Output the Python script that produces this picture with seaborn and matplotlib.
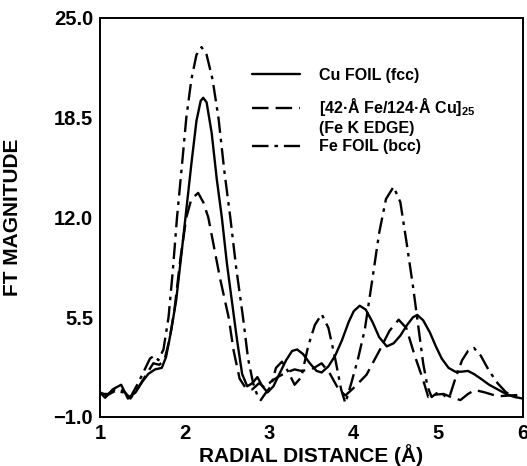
import numpy as np
import pandas as pd
import matplotlib
matplotlib.use("Agg")
import matplotlib.pyplot as plt
import seaborn as sns
from matplotlib.lines import Line2D

# Cu FOIL (fcc) - solid
cu_x = [1.00, 1.06, 1.15, 1.25, 1.33, 1.42, 1.50, 1.57, 1.65, 1.73, 1.78, 1.84, 1.90, 1.96,
        2.02, 2.08, 2.14, 2.19, 2.22, 2.26, 2.32, 2.38, 2.44, 2.50, 2.56, 2.62, 2.68, 2.74,
        2.80, 2.86, 2.92, 2.98, 3.05, 3.12, 3.20, 3.27, 3.33, 3.40, 3.48, 3.56, 3.62, 3.70,
        3.78, 3.86, 3.94, 4.00, 4.07, 4.14, 4.22, 4.30, 4.39, 4.47, 4.55, 4.63, 4.70, 4.75,
        4.82, 4.90, 4.97, 5.04, 5.12, 5.20, 5.27, 5.35, 5.42, 5.50, 5.60, 5.70, 5.80, 5.90, 6.00]
cu_y = [0.6, 0.25, 0.8, 1.1, 0.2, 0.6, 1.3, 1.8, 2.1, 2.2, 2.9, 4.6, 6.6, 9.5,
        12.5, 15.5, 18.3, 19.6, 19.8, 19.5, 17.5, 14.5, 12.0, 9.0, 6.5, 4.0, 1.8, 1.0,
        1.2, 1.6, 1.0, 0.6, 1.0, 1.8, 2.7, 3.3, 3.4, 3.1, 2.5, 2.0, 1.9, 2.3,
        3.0, 4.0, 5.2, 5.9, 6.25, 6.0, 5.2, 4.2, 3.6, 3.8, 4.3, 5.0, 5.5, 5.65,
        5.3, 4.5, 3.6, 2.8, 2.2, 1.95, 1.95, 2.0, 1.8, 1.5, 1.1, 0.8, 0.5, 0.3, 0.2]

# [42-A Fe/124-A Cu]25 (Fe K edge) - dashed
ml_x = [1.00, 1.10, 1.20, 1.28, 1.36, 1.45, 1.55, 1.63, 1.70, 1.76, 1.82, 1.88, 1.95, 2.02,
        2.08, 2.16, 2.22, 2.28, 2.35, 2.42, 2.52, 2.58, 2.65, 2.72, 2.80, 2.88, 2.95, 3.02,
        3.10, 3.20, 3.30, 3.38, 3.50, 3.62, 3.72, 3.82, 3.90, 4.00, 4.15, 4.31, 4.42, 4.53,
        4.62, 4.72, 4.82, 4.88, 4.95, 5.06, 5.15, 5.26, 5.35, 5.43, 5.55, 5.70, 5.85, 6.00]
ml_y = [0.5, 0.5, 0.9, 0.7, 0.2, 0.9, 1.8, 2.5, 2.4, 2.7, 4.0, 6.0, 9.3, 12.0,
        13.2, 13.6, 13.0, 12.0, 10.0, 8.0, 5.5, 3.3, 1.5, 0.9, 0.8, 1.2, 0.9, 1.3,
        1.6, 1.9, 2.1, 2.0, 2.1, 2.5, 1.8, 0.8, 0.4, 0.9, 1.75, 3.4, 4.6, 5.34,
        4.8, 3.0, 1.4, 0.3, 0.45, 0.5, 0.3, 0.1, 0.5, 0.76, 0.6, 0.35, 0.4, 0.45]

# Fe FOIL (bcc) - dash-dot
fe_x = [1.00, 1.08, 1.18, 1.28, 1.36, 1.45, 1.52, 1.59, 1.64, 1.69, 1.75, 1.81, 1.86, 1.91,
        1.97, 2.02, 2.08, 2.14, 2.20, 2.26, 2.33, 2.40, 2.47, 2.54, 2.61, 2.69, 2.75, 2.81,
        2.86, 2.90, 2.95, 3.02, 3.08, 3.15, 3.22, 3.30, 3.38, 3.46, 3.54, 3.62, 3.70, 3.78,
        3.85, 3.90, 3.97, 4.05, 4.13, 4.22, 4.30, 4.38, 4.47, 4.55, 4.62, 4.70, 4.76, 4.82,
        4.87, 4.92, 4.98, 5.03, 5.08, 5.13, 5.20, 5.28, 5.35, 5.42, 5.50, 5.60, 5.70, 5.80,
        5.90, 6.00]
fe_y = [0.6, 0.4, 0.7, 0.6, 0.3, 1.2, 2.0, 2.8, 3.0, 2.7, 3.4, 5.5, 8.5, 12.0,
        15.5, 18.5, 21.0, 22.6, 23.1, 22.6, 21.0, 18.5, 15.0, 12.0, 8.7, 5.5, 2.8, 1.2,
        0.4, 0.1, 0.5, 1.0, 2.2, 2.6, 2.0, 1.1, 1.6, 3.6, 5.0, 5.7, 4.8, 2.8,
        0.8, -0.1, 1.2, 2.8, 4.7, 8.0, 11.0, 13.2, 14.0, 13.0, 10.5, 7.5, 5.0, 2.5,
        1.0, 0.3, 0.55, 0.6, 0.35, 0.3, 1.5, 2.7, 3.3, 3.5, 3.0, 2.0, 1.2, 0.6,
        0.4, 0.45]

y_ticks = [-1.0, 5.5, 12.0, 18.5, 25.0]
y_ticklabels = ["\u22121.0", "5.5", "12.0", "18.5", "25.0"]
x_ticks = [1, 2, 3, 4, 5, 6]

df = pd.concat([
    pd.DataFrame({"r": cu_x, "ft": cu_y, "series": "Cu"}),
    pd.DataFrame({"r": ml_x, "ft": ml_y, "series": "ML"}),
    pd.DataFrame({"r": fe_x, "ft": fe_y, "series": "Fe"}),
])

sns.set_style("white")
plt.rcParams["font.family"] = ["Liberation Sans", "DejaVu Sans"]
plt.rcParams["font.weight"] = "bold"
plt.rcParams["text.color"] = "black"
plt.rcParams["axes.labelcolor"] = "black"
plt.rcParams["xtick.color"] = "black"
plt.rcParams["ytick.color"] = "black"
plt.rcParams["mathtext.fontset"] = "custom"
plt.rcParams["mathtext.rm"] = "Liberation Sans:bold"
plt.rcParams["mathtext.bf"] = "Liberation Sans:bold"
plt.rcParams["mathtext.default"] = "bf"

dash_styles = {"Cu": "", "ML": (7, 3), "Fe": (7, 2.5, 1.5, 2.5)}

fig = plt.figure(figsize=(5.27, 4.66), dpi=100)
ax = fig.add_axes([0.1898, 0.1052, 0.8026, 0.8562])
sns.lineplot(data=df, x="r", y="ft", style="series", dashes=dash_styles,
             color="black", linewidth=1.7, sort=False, estimator=None,
             legend=False, ax=ax)

ax.set_xlim(1, 6)
ax.set_ylim(-1, 25)
ax.set_xticks(x_ticks)
ax.set_xticklabels([str(v) for v in x_ticks])
ax.set_yticks(y_ticks)
ax.set_yticklabels(y_ticklabels)
ax.tick_params(direction="in", length=7, width=1.2, labelsize=14.5, pad=5)
for s in ax.spines.values():
    s.set_linewidth(1.4)
    s.set_color("black")

ax.set_xlabel("RADIAL DISTANCE (\u00c5)", fontsize=15, fontweight="bold", labelpad=1)
ax.set_ylabel("FT MAGNITUDE", fontsize=15, fontweight="bold")
ax.yaxis.set_label_coords(-0.185, 0.5)

handles = [Line2D([], [], color="black", lw=1.7),
           Line2D([], [], color="black", lw=1.7, dashes=dash_styles["ML"]),
           Line2D([], [], color="black", lw=1.7, dashes=dash_styles["Fe"])]
labels = ["Cu FOIL (fcc)", "[42\u00b7\u00c5 Fe/124\u00b7\u00c5 Cu]$_{25}$", "Fe FOIL (bcc)"]
leg_kw = dict(frameon=False, fontsize=11.5, handlelength=3.0, handletextpad=1.2,
              labelspacing=0.85, borderaxespad=0, borderpad=0)
leg1 = ax.legend(handles[:2], labels[:2], loc="upper left",
                 bbox_to_anchor=(0.36, 0.875), **leg_kw)
ax.add_artist(leg1)
leg2 = ax.legend(handles[2:], labels[2:], loc="center left",
                 bbox_to_anchor=(0.36, 0.677), **leg_kw)
ax.text(0.518, 0.722, "(Fe K EDGE)", transform=ax.transAxes, fontsize=11.5,
        fontweight="bold", va="center", ha="left")

fig.savefig("out.png", dpi=100)
